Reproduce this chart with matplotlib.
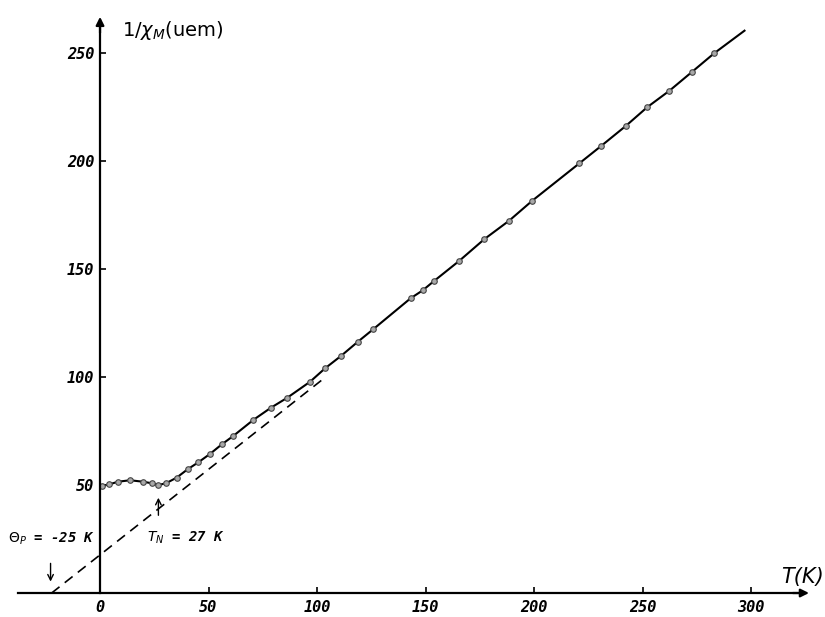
import matplotlib
matplotlib.use("Agg")
import matplotlib.pyplot as plt

# measured points: temperature (K) and 1/chi_M (uem)
T = [0.8, 4.3, 8.2, 13.8, 20.0, 23.8, 26.9, 30.4, 35.3, 40.4, 45.3, 50.7,
     56.1, 61.4, 70.6, 78.8, 86.3, 96.8, 103.7, 111.0, 118.8, 125.9, 143.1,
     148.7, 153.9, 165.6, 177.1, 188.6, 199.2, 220.9, 230.9, 242.3, 252.2,
     262.4, 272.9, 283.1]
inv_chi = [49.5, 50.3, 51.5, 52.2, 51.5, 50.8, 50.0, 50.8, 53.4, 57.3, 60.5,
           64.4, 68.8, 72.7, 80.1, 85.8, 90.4, 97.8, 104.0, 109.7, 116.3,
           122.1, 136.4, 140.1, 144.4, 153.8, 163.8, 172.4, 181.6, 198.9,
           206.9, 216.2, 224.9, 232.5, 241.3, 249.9]

# end of the drawn curve beyond the last point
curve_end_T = 297
curve_end_v = 260.3

# Curie-Weiss extrapolation (dashed)
dash_T = [-22.3, 104]
dash_v = [0, 100]

theta_p = -22.8
T_N = 26.9

xticks = [0, 50, 100, 150, 200, 250, 300]
yticks = [50, 100, 150, 200, 250]

mono = ["DejaVu Sans Mono", "DejaVu Sans"]

fig = plt.figure(figsize=(8.25, 6.17), dpi=100)
ax = fig.add_axes([0, 0, 1, 1])
ax.set_xlim(-46.1, 334.1)
ax.set_ylim(-11.1, 274.5)

for s in ["top", "right"]:
    ax.spines[s].set_visible(False)
ax.spines["bottom"].set_position(("data", 0))
ax.spines["left"].set_position(("data", 0))
ax.spines["bottom"].set_bounds(-38, 322)
ax.spines["left"].set_bounds(0, 262)
ax.spines["bottom"].set_linewidth(1.6)
ax.spines["left"].set_linewidth(1.6)

# arrow heads
ax.annotate("", xy=(328, 0), xytext=(318, 0),
            arrowprops=dict(arrowstyle="-|>", color="k", lw=1.6, mutation_scale=12))
ax.annotate("", xy=(0, 268), xytext=(0, 258),
            arrowprops=dict(arrowstyle="-|>", color="k", lw=1.6, mutation_scale=12))

ax.set_xticks(xticks)
ax.set_yticks(yticks)
ax.set_xticklabels([str(t) for t in xticks], family=mono, fontsize=11,
                   fontweight="bold", fontstyle="oblique")
ax.set_yticklabels([str(t) for t in yticks], family=mono, fontsize=11,
                   fontweight="bold", fontstyle="oblique")
ax.tick_params(axis="x", direction="in", length=4, width=1.2, pad=5)
ax.tick_params(axis="y", direction="in", length=4, width=1.2, pad=4)

# data
ax.plot(dash_T, dash_v, color="k", lw=1.2, ls=(0, (6, 4)))
ax.plot(T + [curve_end_T], inv_chi + [curve_end_v], color="k", lw=1.5)
ax.plot(T, inv_chi, ls="none", marker="o", ms=4, mfc="#a8a8a8",
        mec="#444444", mew=0.8)

# labels
ax.text(10, 260.6, r"1/$\chi_M$(uem)", fontsize=14, va="center", ha="left")
ax.text(323.5, 7.5, "T(K)", fontsize=15, fontstyle="italic", va="center",
        ha="center")

ax.text(-22.4, 25, r"$\Theta_P$ = -25 K", family=mono, fontsize=10,
        fontweight="bold", fontstyle="oblique", va="center", ha="center")
ax.text(39.4, 25.5, r"$T_N$ = 27 K", family=mono, fontsize=10,
        fontweight="bold", fontstyle="oblique", va="center", ha="center")

ax.annotate("", xy=(theta_p, 4), xytext=(theta_p, 15),
            arrowprops=dict(arrowstyle="->", color="k", lw=1.0))
ax.annotate("", xy=(T_N, 45.4), xytext=(T_N, 34.7),
            arrowprops=dict(arrowstyle="->", color="k", lw=1.0))

fig.savefig("out.png", dpi=100)
